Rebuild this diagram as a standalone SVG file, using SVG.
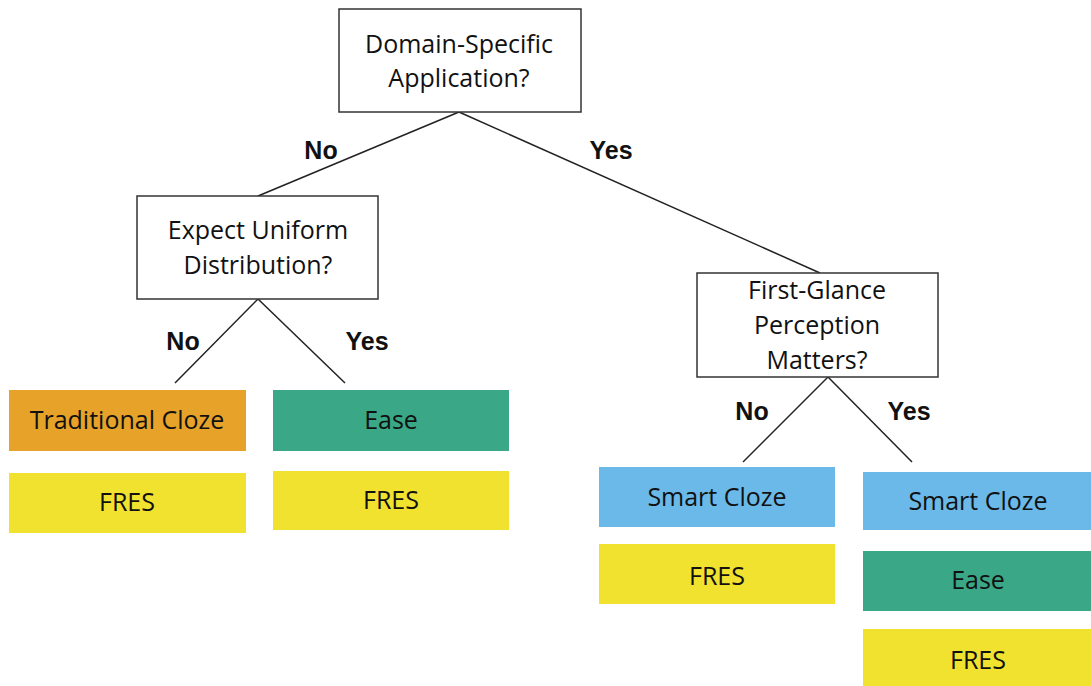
<svg xmlns="http://www.w3.org/2000/svg" width="1091" height="686" viewBox="0 0 1091 686">
<style>
.q{fill:#fff;stroke:#333;stroke-width:1.5}
.t{font-family:"Open Sans","Liberation Sans",sans-serif;font-size:25px;fill:#111;text-anchor:middle}
.lbl{font-family:"Liberation Sans",Arial,sans-serif;font-size:25px;font-weight:bold;fill:#111;text-anchor:middle}
.c{stroke:#222;stroke-width:1.5;fill:none}
.or{fill:#E6A229}.gr{fill:#3AA886}.ye{fill:#F0E22E}.bl{fill:#6BB9E9}
</style>
<rect width="1091" height="686" fill="#fff"/>
<g id="connectors">
<line class="c" x1="459" y1="112" x2="258" y2="196"/>
<line class="c" x1="459" y1="112" x2="820" y2="273"/>
<line class="c" x1="258" y1="299" x2="175" y2="383"/>
<line class="c" x1="258" y1="299" x2="345" y2="383"/>
<line class="c" x1="828" y1="377" x2="743" y2="462"/>
<line class="c" x1="828" y1="377" x2="912" y2="462"/>
<text class="lbl" x="321" y="159">No</text>
<text class="lbl" x="611" y="159">Yes</text>
<text class="lbl" x="183" y="350">No</text>
<text class="lbl" x="367" y="350">Yes</text>
<text class="lbl" x="752" y="420">No</text>
<text class="lbl" x="909" y="420">Yes</text>
</g>
<g id="root"><rect class="q" x="339" y="9" width="242" height="103"/>
<text class="t" x="459" y="53">Domain-Specific</text><text class="t" x="459" y="87">Application?</text></g>
<g id="uniform"><rect class="q" x="137" y="196" width="241" height="103"/>
<text class="t" x="258" y="239">Expect Uniform</text><text class="t" x="258" y="274">Distribution?</text></g>
<g id="glance"><rect class="q" x="697" y="273" width="241" height="104"/>
<text class="t" x="817" y="299">First-Glance</text><text class="t" x="817" y="334">Perception</text><text class="t" x="817" y="369">Matters?</text></g>
<g id="trad"><rect class="or" x="9" y="390" width="237" height="61"/><text class="t" x="127" y="429">Traditional Cloze</text></g>
<g id="fres1"><rect class="ye" x="9" y="473" width="237" height="60"/><text class="t" x="127" y="511">FRES</text></g>
<g id="ease1"><rect class="gr" x="273" y="390" width="236" height="61"/><text class="t" x="391" y="429">Ease</text></g>
<g id="fres2"><rect class="ye" x="273" y="471" width="236" height="59"/><text class="t" x="391" y="509">FRES</text></g>
<g id="smart1"><rect class="bl" x="599" y="467" width="236" height="60"/><text class="t" x="717" y="506">Smart Cloze</text></g>
<g id="fres3"><rect class="ye" x="599" y="544" width="236" height="60"/><text class="t" x="717" y="585">FRES</text></g>
<g id="smart2"><rect class="bl" x="863" y="472" width="228" height="58"/><text class="t" x="978" y="510">Smart Cloze</text></g>
<g id="ease2"><rect class="gr" x="863" y="551" width="228" height="60"/><text class="t" x="978" y="589">Ease</text></g>
<g id="fres4"><rect class="ye" x="863" y="629" width="228" height="57"/><text class="t" x="978" y="669">FRES</text></g>
</svg>
